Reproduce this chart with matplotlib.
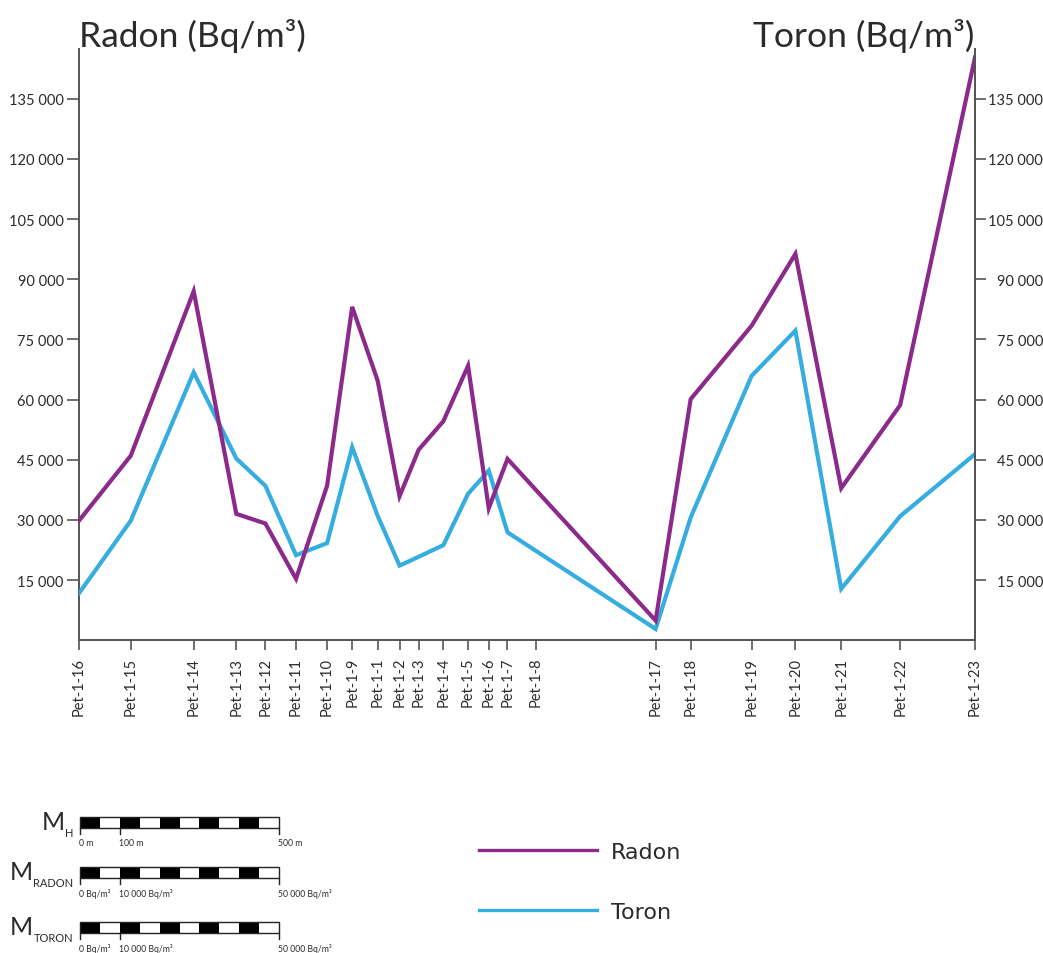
import matplotlib
matplotlib.use("Agg")
import matplotlib.pyplot as plt
from matplotlib.lines import Line2D
from matplotlib.patches import Rectangle
import numpy as np

plt.rcParams['font.family'] = ['Lato', 'DejaVu Sans']

# ---- data ----
stations = ["Pet-1-16", "Pet-1-15", "Pet-1-14", "Pet-1-13", "Pet-1-12", "Pet-1-11",
            "Pet-1-10", "Pet-1-9", "Pet-1-1", "Pet-1-2", "Pet-1-3", "Pet-1-4",
            "Pet-1-5", "Pet-1-6", "Pet-1-7", "Pet-1-8", "Pet-1-17", "Pet-1-18",
            "Pet-1-19", "Pet-1-20", "Pet-1-21", "Pet-1-22", "Pet-1-23"]
# distance along the profile (m)
distance = [0, 130, 288, 395, 468, 545, 623, 686, 750, 805, 853, 915,
            977, 1029, 1076, 1147, 1448, 1536, 1689, 1799, 1914, 2062, 2250]
radon = [29800, 46000, 87000, 31500, 29100, 15300, 38500, 83100, 64700, 35900,
         47500, 54600, 68400, 32900, 45200, None, 4900, 60100, 78400, 96300,
         37900, 58600, 145300]
toron = [11700, 29800, 66800, 45300, 38500, 21200, 24200, 48100, 31000, 18600,
         20800, 23700, 36500, 42300, 26900, None, 2800, 30600, 65900, 77200,
         12800, 30900, 46400]
yticks = [15000, 30000, 45000, 60000, 75000, 90000, 105000, 120000, 135000]
ytick_labels = ["15 000", "30 000", "45 000", "60 000", "75 000", "90 000",
                "105 000", "120 000", "135 000"]

RADON_C = "#8B2A8A"
TORON_C = "#36ADE0"
AXC = "#555555"
TXT = "#2b2b2b"

W, H = 1043, 954
fig = plt.figure(figsize=(W / 100, H / 100), dpi=100)
ax = fig.add_axes([79 / W, 1 - 641.2 / H, (975 - 79) / W, (641.2 - 50) / H])


def valid(xs, ys):
    pts = [(x, y) for x, y in zip(xs, ys) if y is not None]
    return [p[0] for p in pts], [p[1] for p in pts]


xr, yr = valid(distance, radon)
xt, yt = valid(distance, toron)
ax.plot(xt, yt, color=TORON_C, lw=3.0, solid_joinstyle='miter', zorder=3)
ax.plot(xr, yr, color=RADON_C, lw=3.0, solid_joinstyle='miter', zorder=4)

ax.set_xlim(distance[0], distance[-1])
ax.set_ylim(0, 147400)
ax.set_xticks(distance)
ax.set_xticklabels(stations, rotation=90, fontsize=10.5, color=TXT)
ax.set_yticks(yticks)
ax.set_yticklabels(ytick_labels, fontsize=10.5, color=TXT)
ax.tick_params(axis='x', length=7, width=1.2, color=AXC, pad=5)
ax.tick_params(axis='y', length=9, width=1.2, color=AXC, pad=2)
ax.spines['top'].set_visible(False)
for s in ['left', 'right', 'bottom']:
    ax.spines[s].set_color(AXC)
    ax.spines[s].set_linewidth(1.4)

ax2 = ax.twinx()
ax2.set_ylim(ax.get_ylim())
ax2.set_yticks(yticks)
ax2.set_yticklabels(ytick_labels, fontsize=10.5, color=TXT)
ax2.spines['top'].set_visible(False)
ax2.spines['left'].set_visible(False)
ax2.spines['bottom'].set_visible(False)
ax2.spines['right'].set_color(AXC)
ax2.spines['right'].set_linewidth(1.4)
ax2.tick_params(axis='y', length=8, width=1.2, color=AXC)

# right-align right tick labels
fig.canvas.draw()
r = fig.canvas.get_renderer()
maxw = max(t.get_window_extent(r).width for t in ax2.get_yticklabels())
ax2.tick_params(axis='y', pad=(maxw + 2) * 72 / 100)
for t in ax2.get_yticklabels():
    t.set_horizontalalignment('right')

# titles
fig.text(79 / W, 1 - 47 / H, "Radon (Bq/m³)", fontsize=25.5, color=TXT,
         ha='left', va='baseline')
fig.text(974 / W, 1 - 47 / H, "Toron (Bq/m³)", fontsize=25.5, color=TXT,
         ha='right', va='baseline')

# legend
handles = [Line2D([], [], color=RADON_C, lw=2.4), Line2D([], [], color=TORON_C, lw=2.4)]
fig.legend(handles, ["Radon", "Toron"], loc='upper left',
           bbox_to_anchor=(479 / W, 1 - 843 / H), frameon=False,
           prop={'family': 'DejaVu Sans', 'size': 16},
           handlelength=5.3, handletextpad=0.65, labelspacing=1.8,
           borderpad=0, borderaxespad=0, labelcolor=TXT)

# scale bars (figure pixel overlay)
ov = fig.add_axes([0, 0, 1, 1])
ov.set_xlim(0, W)
ov.set_ylim(H, 0)
ov.axis('off')
scale_names = [("M", "H"), ("M", "RADON"), ("M", "TORON")]
scale_labels = [["0 m", "100 m", "500 m"],
                ["0 Bq/m³", "10 000 Bq/m³", "50 000 Bq/m³"],
                ["0 Bq/m³", "10 000 Bq/m³", "50 000 Bq/m³"]]
bar_tops = [818, 868, 923]
x0, x1 = 80, 279
nseg = 10
segw = (x1 - x0) / nseg
bh = 11
for (big, sub), labs, top in zip(scale_names, scale_labels, bar_tops):
    for i in range(nseg):
        ov.add_patch(Rectangle((x0 + i * segw, top), segw, bh,
                               facecolor='black' if i % 2 == 0 else 'white',
                               edgecolor='none'))
    ov.add_patch(Rectangle((x0, top), x1 - x0, bh, facecolor='none',
                           edgecolor='#222222', lw=1.0))
    for frac, lab in zip([0, 0.2, 1.0], labs):
        xx = x0 + frac * (x1 - x0)
        ov.plot([xx, xx], [top + bh, top + bh + 6], color='#222222', lw=1.0)
        ov.text(xx - 1, top + bh + 15, lab, fontsize=6.2, color=TXT, ha='left', va='center')
    st = ov.text(73, top + bh + 8, sub, fontsize=8, color=TXT, ha='right', va='baseline')
    fig.canvas.draw()
    sw = st.get_window_extent(fig.canvas.get_renderer()).width
    mx = 73 - sw
    ov.text(mx, top + bh + 1, big, fontsize=18, color=TXT, ha='right', va='baseline')

fig.savefig("out.png", dpi=100)
